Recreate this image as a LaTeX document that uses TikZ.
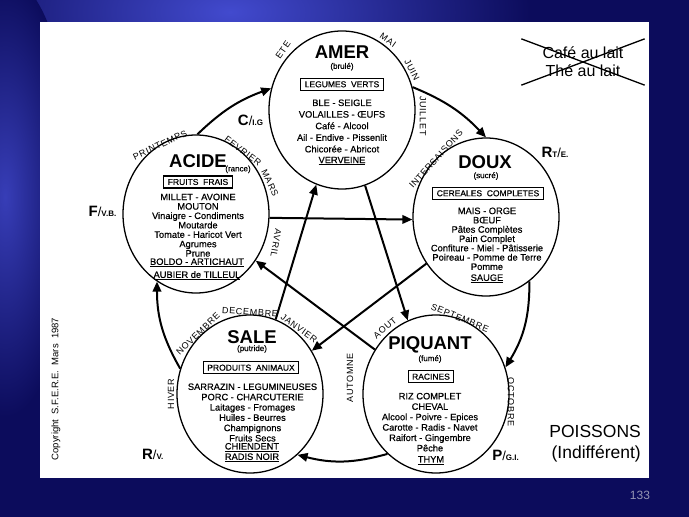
\documentclass[tikz,border=0pt]{standalone}
\usepackage{fontspec}
\setmainfont{Liberation Sans}
\newfontfamily\monthfont[LetterSpace=8]{Liberation Sans}
\newfontfamily\foodfont[FakeBold=0.5]{Liberation Sans}
\usepackage{tikz}
\usetikzlibrary{shapes.geometric, shapes.misc, arrows.meta, positioning}
\definecolor{slidenavy}{RGB}{12, 12, 92}
\definecolor{slideglow}{RGB}{66, 74, 206}
\definecolor{slidegray}{RGB}{150, 150, 180}
\newcommand{\organlab}[3]{{\fontsize{15}{15}\selectfont\bfseries #1}{\fontsize{8}{8}\selectfont\bfseries #2}{\fontsize{13}{13}\selectfont /}{\fontsize{8}{8}\selectfont\bfseries #3}}

\begin{document}
\begin{tikzpicture}[x=1pt, y=1pt,
    every node/.style={inner sep=0pt},
    ring/.style={ellipse, draw, line width=1.3pt, minimum width=146pt, minimum height=158pt},
    tastetitle/.style={font=\fontsize{18.5}{18.5}\selectfont\bfseries},
    flavour/.style={font=\foodfont\fontsize{8}{8}\selectfont},
    foodbox/.style={draw, line width=1.2pt, inner xsep=4pt, inner ysep=3pt, font=\foodfont\fontsize{8.5}{8.5}\selectfont},
    foods/.style={align=center, font=\foodfont\fontsize{9.3}{#1}\selectfont},
    month/.style={font=\monthfont\fontsize{9}{9}\selectfont},
    arrow/.style={-{Triangle[length=10pt, width=8.5pt]}, line width=2pt}
]

% Slide background
\useasboundingbox (0,0) rectangle (689,517);
\fill[slidenavy] (0,0) rectangle (689,517);
\begin{scope}
  \clip (0,0) rectangle (689,517);
  \shade[inner color=slideglow, outer color=slidenavy] (230,505) ellipse (300 and 140);
  \shade[inner color=slideglow!80!slidenavy, outer color=slidenavy] (5,320) ellipse (70 and 220);
\end{scope}
\fill[white] (40,39) rectangle (649,495);

% The five tastes
\node[ring] (amer) at (342,407) {};
\node[ring] (doux) at (486,300) {};
\node[ring] (acide) at (196,303) {};
\node[ring] (sale) at (250,123) {};
\node[ring] (piquant) at (436,123) {};

% Amer
\node[tastetitle] (amertitle) at (342,464.7) {AMER};
\node[flavour] (amerflavour) at (342,450.3) {(brulé)};
\node[foodbox] (amerbox) at (342,432.7) {LEGUMES\ \ VERTS};
\node[foods=11.6] (amerfoods) at (342,391) {BLE - SEIGLE\\VOLAILLES - ŒUFS\\Café - Alcool\\Ail - Endive - Pissenlit\\Chicorée - Abricot};
\node[foods=11.6] (amerherb) at (342,356) {\underline{VERVEINE}};

% Doux
\node[tastetitle] (douxtitle) at (485,355.3) {DOUX};
\node[flavour] (douxflavour) at (486,341) {(sucré)};
\node[foodbox] (douxbox) at (488,323.7) {CEREALES\ \ COMPLETES};
\node[foods=9.3] (douxfoods) at (487,278.2) {MAIS - ORGE\\BŒUF\\Pâtes Complètes\\Pain Complet\\Confiture - Miel - Pâtisserie\\Poireau - Pomme de Terre\\Pomme};
\node[foods=9.3] (douxherb) at (487,238.3) {\underline{SAUGE}};

% Acide
\node[tastetitle] (acidetitle) at (198,356.3) {ACIDE};
\node[flavour] (acideflavour) at (238,347.7) {(rance)};
\node[foodbox] (acidebox) at (198,335) {FRUITS\ \ FRAIS};
\node[foods=9.4] (acidefoods) at (198,291.8) {MILLET - AVOINE\\MOUTON\\Vinaigre - Condiments\\Moutarde\\Tomate - Haricot Vert\\Agrumes\\Prune};
\node[foods=13] (acideherb) at (197,247.8) {\underline{BOLDO - ARTICHAUT}\\\underline{AUBIER de TILLEUL}};

% Sale
\node[tastetitle] (saletitle) at (252,180.3) {SALE};
\node[flavour] (saleflavour) at (252,168) {(putride)};
\node[foodbox] (salebox) at (251,149.3) {PRODUITS\ \ ANIMAUX};
\node[foods=10.3] (salefoods) at (252.5,104.5) {SARRAZIN - LEGUMINEUSES\\PORC - CHARCUTERIE\\Laitages - Fromages\\Huiles - Beurres\\Champignons\\Fruits Secs};
\node[foods=10.4] (saleherb) at (252,64.5) {\underline{CHIENDENT}\\\underline{RADIS NOIR}};

% Piquant
\node[tastetitle] (piquanttitle) at (430,172) {PIQUANT};
\node[flavour] (piquantflavour) at (430,158) {(fumé)};
\node[foodbox] (piquantbox) at (431,140.3) {RACINES};
\node[foods=10.4] (piquantfoods) at (430,94.8) {RIZ COMPLET\\CHEVAL\\Alcool - Poivre - Epices\\Carotte - Radis - Navet\\Raifort - Gingembre\\Pêche};
\node[foods=10.4] (piquantherb) at (431,56.7) {\underline{THYM}};

% Months and seasons round the circles
\foreach \word/\px/\py/\ang [count=\i] in {ETE/283/467/55, MAI/388/477/-35, JUIN/412/447/-62, JUILLET/423/401/-90,
    PRINTEMPS/160/372/25, FEVRIER/243/366/-37, MARS/270/334/-65, AVRIL/276/274/-100,
    INTERSAISONS/436/358/48, NOVEMBRE/198/183/44, DECEMBRE/250/205/-4, JANVIER/299/189/-36,
    HIVER/171/123/90, AOUT/385/189/40, SEPTEMBRE/460/199/-22, AUTOMNE/350/139/90, OCTOBRE/511/115/-90}
  \node[month, rotate=\ang] (month\i) at (\px,\py) {\word};

% Organs
\node (ig) at (250.5,397) {\organlab{C}{}{I.G}};
\node (te) at (555,365) {\organlab{R}{T}{E.}};
\node (vb) at (102.5,306) {\organlab{F}{}{V.B.}};
\node (v) at (152.7,63) {\organlab{R}{}{V.}};
\node (gi) at (505.5,62) {\organlab{P}{}{G.I.}};

% Side notes
\node[cross out, draw, line width=1.3pt, minimum width=122pt, minimum height=45pt, align=center, font=\fontsize{16}{18}\selectfont] (cafe) at (583,455) {Café au lait\\Thé au lait};
\node[align=right, anchor=east, font=\fontsize{17.5}{20.7}\selectfont] (poissons) at (641,73.3) {POISSONS\\(Indifférent)};
\node[rotate=90, font=\fontsize{9.5}{9.5}\selectfont] (copyright) at (56,128) {Copyright\ \ S.F.E.R.E.\ \ Mars\ \ 1987};
\node[text=slidegray, font=\fontsize{12}{12}\selectfont] (pagenum) at (640,22) {133};

% Cycle arrows
\draw[arrow] (acide.89) to[bend left=12] (amer.163);
\draw[arrow] (amer.18) to[bend left=12] (doux.90);
\draw[arrow] (doux.-56) to[bend left=16] (piquant.21);
\draw[arrow] (piquant.231) to[bend left=15] (sale.-52);
\draw[arrow] (sale.160) to[bend left=15] (acide.240);

% Star arrows
\draw[arrow] (acide.-3) -- (doux.182);
\draw[arrow] (doux.218) -- (sale.35);
\draw[arrow] (sale.71) -- (amer.251);
\draw[arrow] (amer.-73) -- (piquant.111);
\draw[arrow] (piquant.144) -- (acide.-38);

\end{tikzpicture}
\end{document}
